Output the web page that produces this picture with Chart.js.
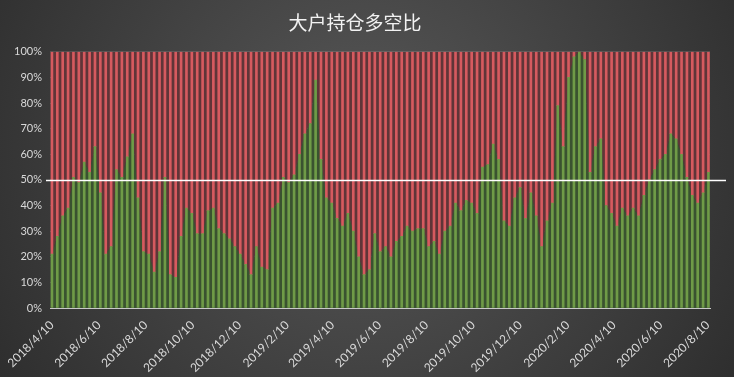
<!DOCTYPE html>
<html><head><meta charset="utf-8">
<script src="https://cdn.jsdelivr.net/npm/chart.js@4.4.0/dist/chart.umd.min.js"></script>
<style>html,body{margin:0;padding:0;background:#333;}#wrap{width:734px;height:377px;}</style>
</head><body><div id="wrap"><canvas id="c" width="734" height="377"></canvas></div>
<script>
const chartTitle = '大户持仓多空比';
const firstWeek = '2018/4/10';
// long share (%) per week; short share is the remainder to 100%
const longRatio = [
21,28,36,39,51,49,57,53,63,45,
21,24,54,51,59,68,43,22,21,14,
22,51,13,12,28,39,37,29,29,38,
39,31,29,27,24,21,17,13,24,16,
15,39,41,51,49,52,60,68,72,89,
58,43,41,35,32,37,30,20,13,15,
29,22,24,20,26,28,32,30,31,31,
24,26,21,30,32,41,38,42,41,37,
55,56,64,58,34,32,43,47,35,45,
36,24,34,41,79,63,90,98,100,97,
53,63,66,40,37,32,39,36,39,36,
44,50,54,58,60,68,66,60,51,44,
41,45,53
];
const tickLabels = ['2018/4/10','2018/6/10','2018/8/10','2018/10/10','2018/12/10','2019/2/10','2019/4/10','2019/6/10','2019/8/10','2019/10/10','2019/12/10','2020/2/10','2020/4/10','2020/6/10','2020/8/10'];
const yTicks = [0,10,20,30,40,50,60,70,80,90,100];
const refLine = 50;

function dayOf(s){const p=s.split('/').map(Number);return Date.UTC(p[0],p[1]-1,p[2])/864e5;}
const day0 = dayOf(firstWeek);
const categories = longRatio.map((_,i)=>{const t=new Date((day0+7*i)*864e5);return t.getUTCFullYear()+'/'+(t.getUTCMonth()+1)+'/'+t.getUTCDate();});
const xs = categories.map(c=>dayOf(c)-day0);
const tickDays = tickLabels.map(s=>dayOf(s)-day0);

const longPts = longRatio.map((v,i)=>({x:xs[i],y:v}));
const shortPts = longRatio.map((v,i)=>({x:xs[i],y:[v,100]}));

const bgPlugin = {
  id:'bg',
  beforeDraw(chart){
    const {ctx,width,height}=chart;
    ctx.save();
    const g=ctx.createRadialGradient(width*0.5,height*0.4,10,width*0.5,height*0.4,width*0.62);
    g.addColorStop(0,'#575757');
    g.addColorStop(1,'#2c2c2c');
    ctx.fillStyle=g;ctx.fillRect(0,0,width,height);
    ctx.restore();
  }
};
const refPlugin = {
  id:'ref',
  afterDatasetsDraw(chart){
    const {ctx,chartArea}=chart;
    const y=Math.round(chart.scales.y.getPixelForValue(refLine))+0.5;
    ctx.save();
    ctx.strokeStyle='#ffffff';ctx.lineWidth=1.5;
    ctx.beginPath();ctx.moveTo(chartArea.left-4,y);ctx.lineTo(chartArea.right+16,y);ctx.stroke();
    ctx.restore();
  }
};

new Chart(document.getElementById('c'),{
  data:{
    datasets:[
      {type:'bar',data:longPts,backgroundColor:'#6f9b47',barThickness:2,grouped:false,order:1},
      {type:'bar',data:shortPts,backgroundColor:'#d65a5f',barThickness:2,grouped:false,order:1},
      {type:'line',data:longPts,fill:'origin',backgroundColor:'#3a5230',borderWidth:0,pointRadius:0,tension:0,order:5},
      {type:'line',data:longPts,fill:{value:100},backgroundColor:'#5f3538',borderWidth:0,pointRadius:0,tension:0,order:5}
    ]
  },
  options:{
    responsive:false,devicePixelRatio:1,animation:false,
    layout:{padding:{left:0,right:24,top:0,bottom:0}},
    plugins:{
      legend:{display:false},tooltip:{enabled:false},
      title:{display:true,text:chartTitle,color:'#f2f2f2',font:{family:'"Noto Sans CJK SC", sans-serif',size:19,weight:'normal'},padding:{top:11,bottom:18}}
    },
    scales:{
      x:{type:'linear',min:-2.5,max:856,offset:false,
        grid:{display:false},
        border:{display:true,color:'#c8c8c8',width:1},
        afterBuildTicks(s){s.ticks=tickDays.map(v=>({value:v}));},
        afterFit(s){s.height=69;},
        ticks:{autoSkip:false,maxRotation:45,minRotation:45,color:'#d9d9d9',font:{family:'Lato, "Noto Sans", sans-serif',size:12},padding:2,
          callback(v){const i=tickDays.indexOf(v);return i>=0?tickLabels[i]:'';}}
      },
      y:{min:0,max:100,
        afterBuildTicks(s){s.ticks=yTicks.map(v=>({value:v}));},
        afterFit(s){s.width=50;},
        grid:{color:'rgba(255,255,255,0.13)',drawTicks:false},
        border:{display:false},
        ticks:{color:'#d9d9d9',font:{family:'Lato, "Noto Sans", sans-serif',size:11},padding:8,callback:v=>v+'%'}
      }
    }
  },
  plugins:[bgPlugin,refPlugin]
});
</script></body></html>
